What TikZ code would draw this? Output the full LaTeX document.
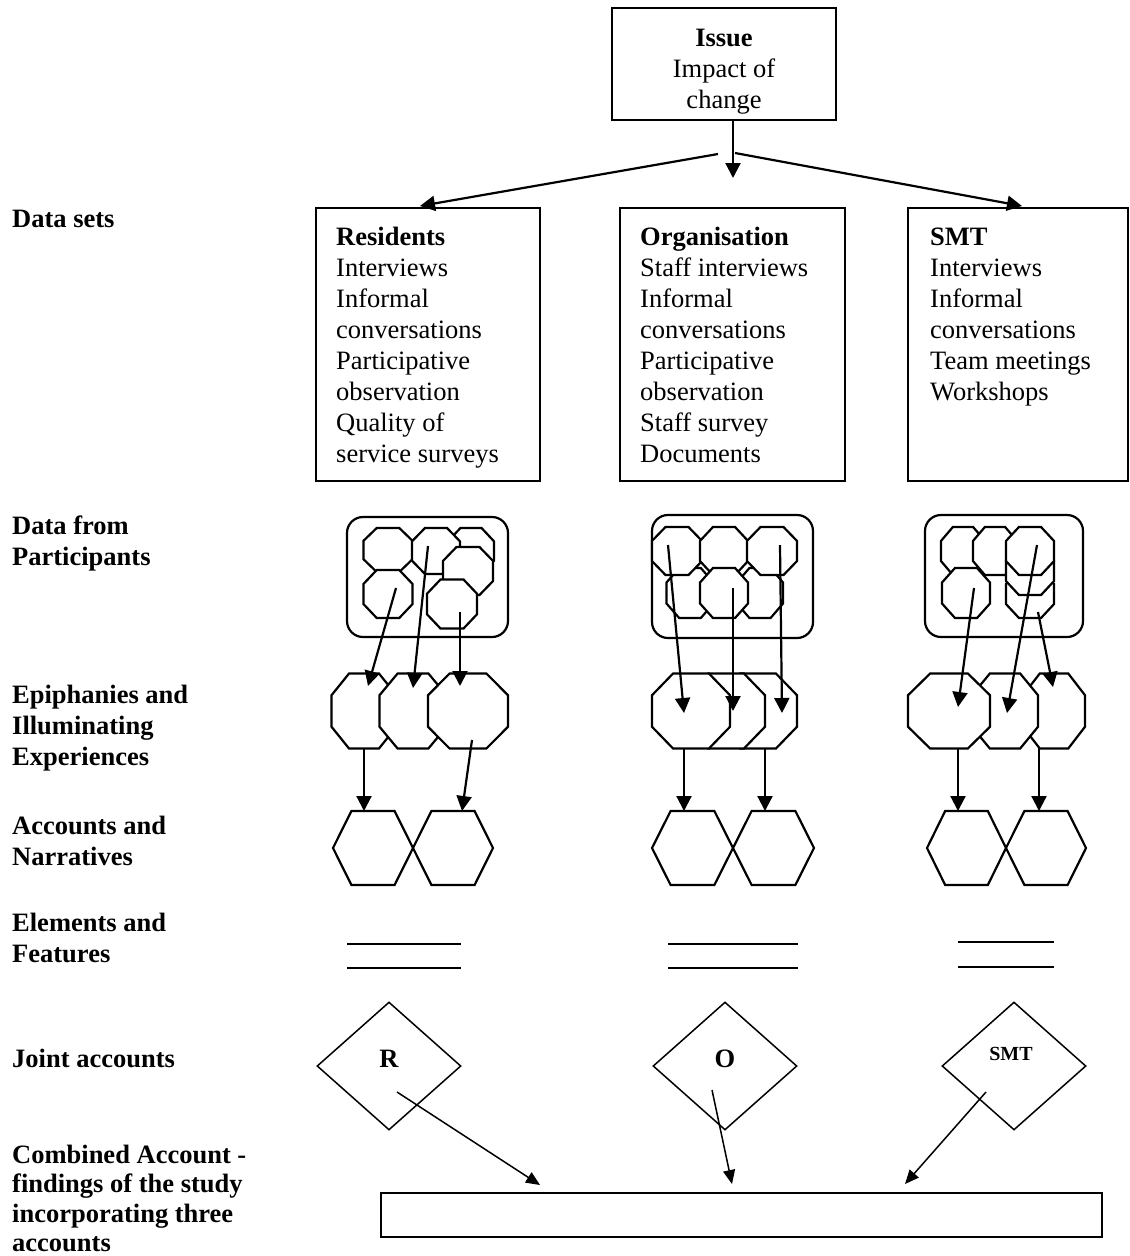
\documentclass[tikz,border=0pt]{standalone}
\usepackage{fontspec}
\setmainfont{Liberation Serif}
\usetikzlibrary{arrows.meta,shapes.geometric}

\tikzset{
  % chamfered octagon: width, height
  pics/oct/.style n args={2}{code={
    \pgfmathsetmacro\octW{#1/2}\pgfmathsetmacro\octH{#2/2}
    \pgfmathsetmacro\octX{0.27*#1}\pgfmathsetmacro\octY{0.29*#2}
    \draw[shapeline, fill=white]
      (-\octW,-\octH+\octY) -- (-\octW+\octX,-\octH) -- (\octW-\octX,-\octH) --
      (\octW,-\octH+\octY) -- (\octW,\octH-\octY) -- (\octW-\octX,\octH) --
      (-\octW+\octX,\octH) -- (-\octW,\octH-\octY) -- cycle;
    \coordinate (-c) at (0,0);
  }},
  % flat-topped hexagon: width, height
  pics/hexa/.style n args={2}{code={
    \pgfmathsetmacro\hexW{#1/2}\pgfmathsetmacro\hexH{#2/2}
    \pgfmathsetmacro\hexT{0.27*#1}
    \draw[shapeline]
      (-\hexW,0) -- (-\hexT,-\hexH) -- (\hexT,-\hexH) -- (\hexW,0) --
      (\hexT,\hexH) -- (-\hexT,\hexH) -- cycle;
    \coordinate (-c) at (0,0);
  }},
  shapeline/.style={line width=2.2pt, line join=miter},
  lab/.style={font=\fontsize{26.5}{31}\selectfont, inner sep=0pt, align=left, anchor=north west},
  blab/.style={lab, font=\fontsize{26.5}{31}\selectfont\bfseries},
  box/.style={draw, line width=2.2pt, inner sep=0pt},
  group/.style={draw, line width=2.2pt, rounded corners=16pt, inner sep=0pt},
  joint/.style={draw, diamond, line width=1.5pt, inner sep=0pt, minimum width=144pt, minimum height=128pt},
  flow/.style={line width=2.2pt, -{Triangle[length=15pt,width=15pt]}},
  merge/.style={line width=1.5pt, -{Triangle[length=14pt,width=12pt]}},
  rule/.style={line width=2.6pt},
}

\begin{document}
\begin{tikzpicture}[x=1pt,y=-1pt]
\path[fill=white] (0,0) rectangle (1130,1256);
\useasboundingbox (0,0) rectangle (1130,1256);

% ---- row labels ----
\node[blab] (lDS) at (12,205.3) {\strut Data sets};
\node[blab] (lDP) at (12,512.3) {\strut Data from\\Participants};
\node[blab] (lEP) at (12,681.3) {\strut Epiphanies and\\Illuminating\\Experiences};
\node[blab] (lAN) at (12,812.3) {\strut Accounts and\\Narratives};
\node[blab] (lEF) at (12,909.3) {\strut Elements and\\Features};
\node[blab] (lJA) at (12,1045.3) {\strut Joint accounts};
\node[blab, font=\fontsize{26.5}{29.5}\selectfont\bfseries] (lCA) at (12,1142.3)
  {\strut Combined Account -\\findings of the study\\incorporating three\\accounts};

% ---- issue ----
\node[box, minimum width=224pt, minimum height=112pt] (issue) at (724,64) {};
\node[lab, align=center, anchor=north] (issuetxt) at (724,24.3)
  {\strut\textbf{Issue}\\Impact of\\change};

% ---- data sets ----
\node[box, minimum width=224pt, minimum height=273pt] (res) at (428,344.5) {};
\node[box, minimum width=225pt, minimum height=273pt] (org) at (732.5,344.5) {};
\node[box, minimum width=220pt, minimum height=273pt] (smt) at (1018,344.5) {};
\node[lab] (restxt) at (336,223.3) {\strut\textbf{Residents}\\Interviews\\Informal\\conversations\\Participative\\observation\\Quality of\\service surveys};
\node[lab] (orgtxt) at (640,223.3) {\strut\textbf{Organisation}\\Staff interviews\\Informal\\conversations\\Participative\\observation\\Staff survey\\Documents};
\node[lab] (smttxt) at (930,223.3) {\strut\textbf{SMT}\\Interviews\\Informal\\conversations\\Team meetings\\Workshops};

% ---- arrows from the issue ----
\coordinate (split) at (733,120);
\coordinate (splitL) at (718,154);
\coordinate (splitR) at (735,153);
\coordinate (midtip) at (733,178);
\coordinate (restop) at (420,206);
\coordinate (smttop) at (1022,206);
\draw[flow] (split) -- (midtip);
\draw[flow] (splitL) -- (restop);
\draw[flow] (splitR) -- (smttop);

% ---- participant data: residents ----
\node[group, minimum width=161pt, minimum height=120pt] (gR) at (427.5,577) {};
\pic (rc) at (471,551) {oct={46}{46}};
\pic (ra) at (388,550) {oct={49}{44}};
\pic (rb) at (436,551) {oct={48}{46}};
\pic (rd) at (468,571) {oct={50}{48}};
\pic (re) at (388,594) {oct={49}{48}};
\pic (rf) at (452,604) {oct={50}{49}};

% ---- participant data: organisation ----
\node[group, minimum width=161pt, minimum height=123pt] (gO) at (732.5,576.5) {};
\pic (od) at (690,593) {oct={47}{50}};
\pic (of) at (760,593) {oct={46}{50}};
\pic (oa) at (677,551) {oct={50}{48}};
\pic (ob) at (724,551) {oct={48}{48}};
\pic (oc) at (772,551) {oct={50}{48}};
\pic (oe) at (724,593) {oct={48}{50}};

% ---- participant data: SMT ----
\node[group, minimum width=158pt, minimum height=122pt] (gS) at (1004,576) {};
\pic (sa) at (963,551) {oct={44}{48}};
\pic (sb) at (995,551) {oct={44}{48}};
\pic (sc3) at (1030,594) {oct={48}{48}};
\pic (sc2) at (1030,571) {oct={48}{48}};
\pic (sc1) at (1030,551) {oct={48}{48}};
\pic (sd) at (966,593) {oct={48}{50}};

% ---- epiphanies ----
\pic (er1) at (364,711) {oct={65}{75}};
\pic (er2) at (413,711) {oct={67}{75}};
\pic (er3) at (468,711) {oct={80}{75}};

\pic (eo3) at (758,711) {oct={78}{75}};
\pic (eo2) at (726,711) {oct={78}{75}};
\pic (eo1) at (691,711) {oct={78}{75}};

\pic (es3) at (1054,711) {oct={62}{75}};
\pic (es2) at (1005,711) {oct={66}{75}};
\pic (es1) at (949,711) {oct={82}{75}};

% ---- accounts ----
\pic (ar1) at (373,848) {hexa={80}{74}};
\pic (ar2) at (453,848) {hexa={80}{74}};
\pic (ao1) at (692.5,848) {hexa={81}{74}};
\pic (ao2) at (773.5,848) {hexa={81}{74}};
\pic (as1) at (966.5,848) {hexa={79}{74}};
\pic (as2) at (1046,848) {hexa={80}{74}};

% ---- arrows: participants to epiphanies to accounts ----
\coordinate (r1s) at (396,588);   \coordinate (r1e) at (368,686);
\coordinate (r2s) at (428,546);   \coordinate (r2e) at (413,688);
\coordinate (r3s) at (460,612);   \coordinate (r3e) at (460,686);
\coordinate (r4s) at (364,748);   \coordinate (r4e) at (364,811);
\coordinate (r5s) at (472,740);   \coordinate (r5e) at (462,811);
\draw[flow] (r1s) -- (r1e);
\draw[flow] (r2s) -- (r2e);
\draw[flow] (r3s) -- (r3e);
\draw[flow] (r4s) -- (r4e);
\draw[flow] (r5s) -- (r5e);

\coordinate (o1s) at (668,545);   \coordinate (o1e) at (684,713);
\coordinate (o2s) at (733,588);   \coordinate (o2e) at (733,711);
\coordinate (o3s) at (780,545);   \coordinate (o3e) at (782,713);
\coordinate (o4s) at (684,748);   \coordinate (o4e) at (684,811);
\coordinate (o5s) at (765,748);   \coordinate (o5e) at (765,811);
\draw[flow] (o1s) -- (o1e);
\draw[flow] (o2s) -- (o2e);
\draw[flow] (o3s) -- (o3e);
\draw[flow] (o4s) -- (o4e);
\draw[flow] (o5s) -- (o5e);

\coordinate (s1s) at (974,588);   \coordinate (s1e) at (958,707);
\coordinate (s2s) at (1037,545);  \coordinate (s2e) at (1007,713);
\coordinate (s3s) at (1038,612);  \coordinate (s3e) at (1053,687);
\coordinate (s4s) at (958,748);   \coordinate (s4e) at (958,811);
\coordinate (s5s) at (1039,748);  \coordinate (s5e) at (1039,811);
\draw[flow] (s1s) -- (s1e);
\draw[flow] (s2s) -- (s2e);
\draw[flow] (s3s) -- (s3e);
\draw[flow] (s4s) -- (s4e);
\draw[flow] (s5s) -- (s5e);

% ---- elements and features ----
\draw[rule] (347,944) -- (461,944);
\draw[rule] (347,968) -- (461,968);
\draw[rule] (668,944) -- (798,944);
\draw[rule] (668,968) -- (798,968);
\draw[rule] (958,942) -- (1054,942);
\draw[rule] (958,967) -- (1054,967);

% ---- joint accounts ----
\node[joint] (jR) at (389,1066) {};
\node[joint] (jO) at (725,1066) {};
\node[joint] (jS) at (1014,1066) {};
\node[lab, anchor=base, font=\fontsize{26.5}{31}\selectfont\bfseries] (jRt) at (389,1067) {R};
\node[lab, anchor=base, font=\fontsize{26.5}{31}\selectfont\bfseries] (jOt) at (725,1067) {O};
\node[lab, anchor=base, font=\fontsize{20}{24}\selectfont\bfseries] (jSt) at (1011,1060) {SMT};

% ---- combined account ----
\node[box, minimum width=721pt, minimum height=44pt] (comb) at (741.5,1215) {};
\coordinate (jRs) at (397,1092);  \coordinate (cR) at (540,1185);
\coordinate (jOs) at (712,1090);  \coordinate (cO) at (732,1184);
\coordinate (jSs) at (986,1092);  \coordinate (cS) at (905,1184);
\draw[merge] (jRs) -- (cR);
\draw[merge] (jOs) -- (cO);
\draw[merge] (jSs) -- (cS);
\end{tikzpicture}
\end{document}
